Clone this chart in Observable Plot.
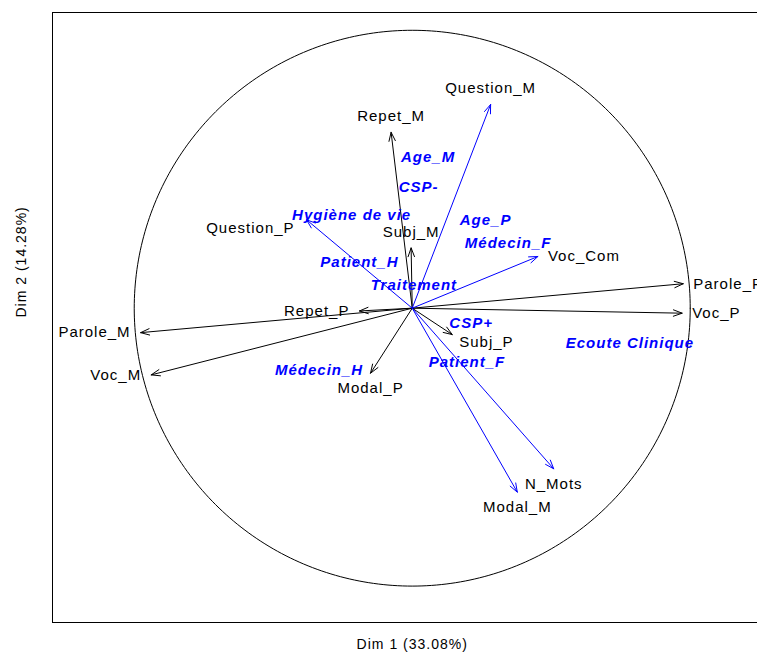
<!DOCTYPE html>
<html><head><meta charset="utf-8">
<script src="https://cdn.jsdelivr.net/npm/d3@7"></script>
<script src="https://cdn.jsdelivr.net/npm/@observablehq/plot@0.6"></script>
<style>body{margin:0;background:#fff} svg{display:block}</style>
</head><body><div id="chart"></div>
<script>
// Quantitative variables (correlation circle coordinates)
const varNames = ["Repet_M","Question_M","Question_P","Subj_M","Voc_Com","Parole_P","Voc_P","Repet_P","Parole_M","Voc_M","Modal_P","Subj_P","N_Mots","Modal_M"];
const varDim1  = [-0.076, 0.282, -0.380, -0.004, 0.452, 0.975, 0.971, -0.190, -0.977, -0.939, -0.150, 0.144, 0.509, 0.378];
const varDim2  = [ 0.633, 0.733,  0.318,  0.217, 0.186, 0.088, -0.018, -0.010, -0.088, -0.240, -0.234, -0.095, -0.578, -0.662];
const varType  = ["active","sup","sup","active","sup","active","active","active","active","active","active","active","sup","sup"];
const varLabelPos = ["top","top","left-low","top","right","right","right","left","left","left","bottom","right-low","bottom","bottom"];

// Supplementary categories
const supNames = ["Age_M","CSP-","Hygiène de vie","Age_P","Médecin_F","Patient_H","Traitement","CSP+","Ecoute Clinique","Patient_F","Médecin_H"];
const supDim1  = [0.057, 0.023, -0.218, 0.264, 0.345, -0.190, 0.006, 0.212, 0.783, 0.197, -0.335];
const supDim2  = [0.542, 0.434,  0.333, 0.315, 0.233,  0.164, 0.082, -0.055, -0.126, -0.194, -0.224];

const axisTitles = ["Dim 1 (33.08%)", "Dim 2 (14.28%)"];

const vars = varNames.map((name, i) => ({name, x: varDim1[i], y: varDim2[i], type: varType[i], pos: varLabelPos[i]}));
const sups = supNames.map((name, i) => ({name, x: supDim1[i], y: supDim2[i]}));
const circle = d3.range(0, 361).map(a => ({x: Math.cos(a * Math.PI / 180), y: Math.sin(a * Math.PI / 180)}));

const xDomain = [-1.294, 1.242];
const yDomain = [-1.131, 1.064];
const BLUE = "#0000ff";

const labelOpts = {
  "top":       {textAnchor: "middle", dx: 0,   dy: -16},
  "bottom":    {textAnchor: "middle", dx: 0,   dy: 15},
  "left":      {textAnchor: "end",    dx: -10, dy: 0},
  "right":     {textAnchor: "start",  dx: 10,  dy: 0},
  "left-low":  {textAnchor: "end",    dx: -12, dy: 8},
  "right-low": {textAnchor: "start",  dx: 7,   dy: 8}
};

const labelMarks = Object.entries(labelOpts).map(([pos, o]) =>
  Plot.text(vars.filter(d => d.pos === pos), {x: "x", y: "y", text: "name", fill: "#000", fontSize: 15, lineAnchor: "middle", ...o})
);

const chart = Plot.plot({
  width: 757, height: 656,
  marginLeft: 52, marginRight: 0, marginTop: 12, marginBottom: 34,
  x: {domain: xDomain, axis: null},
  y: {domain: yDomain, axis: null},
  style: {fontFamily: "'Liberation Sans', Arial, Helvetica, sans-serif", background: "#fff", letterSpacing: "1px"},
  marks: [
    Plot.ruleY([yDomain[1]], {stroke: "#000", strokeWidth: 1}),
    Plot.ruleY([yDomain[0]], {stroke: "#000", strokeWidth: 1}),
    Plot.ruleX([xDomain[0]], {stroke: "#000", strokeWidth: 1}),
    Plot.line(circle, {x: "x", y: "y", stroke: "#000", strokeWidth: 1}),
    Plot.arrow(vars.filter(d => d.type === "active"), {x1: d => 0, y1: d => 0, x2: "x", y2: "y", stroke: "#000", strokeWidth: 1, headLength: 14, headAngle: 40}),
    Plot.arrow(vars.filter(d => d.type === "sup"), {x1: d => 0, y1: d => 0, x2: "x", y2: "y", stroke: BLUE, strokeWidth: 1, headLength: 14, headAngle: 40}),
    ...labelMarks,
    Plot.text(sups, {x: "x", y: "y", text: "name", fill: BLUE, fontSize: 15, fontWeight: "bold", fontStyle: "italic", textAnchor: "middle"}),
    Plot.text([axisTitles[0]], {x: d => 0, frameAnchor: "bottom", dy: 26, fontSize: 14, fill: "#000"}),
    Plot.text([axisTitles[1]], {frameAnchor: "left", dx: -31, rotate: -90, fontSize: 14, fill: "#000"})
  ]
});
document.getElementById("chart").appendChild(chart);
</script>
</body></html>
